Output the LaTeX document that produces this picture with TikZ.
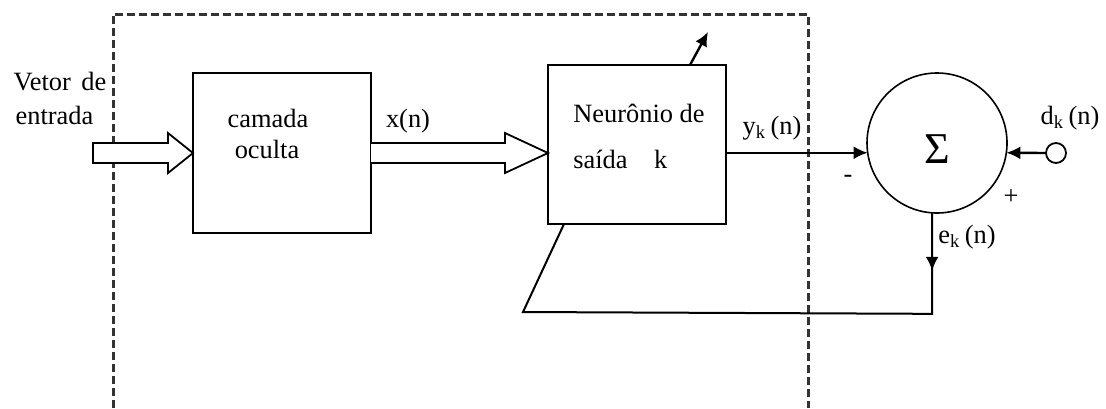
\documentclass[tikz,border=0pt]{standalone}
\usepackage{fontspec}
\setmainfont{Liberation Serif}
\usetikzlibrary{arrows.meta,calc}
\begin{document}
\begin{tikzpicture}[x=0.5pt,y=-0.5pt,
  txt/.style={inner sep=0pt,font=\fontsize{13.2}{15}\selectfont},
  blk/.style={draw,line width=0.9pt,inner sep=0pt,outer sep=0pt},
  sumc/.style={draw,circle,line width=0.8pt,minimum size=70pt,inner sep=0pt,outer sep=0pt},
  hollow/.style={draw,line width=0.9pt,fill=white},
  sig/.style={line width=1.2pt,-{Latex[length=7pt,width=6.5pt]}},
  wire/.style={line width=1pt},
  dashline/.style={draw=black!80,line width=1.5pt,dash pattern=on 4pt off 2pt}]
\useasboundingbox (0,0) rectangle (1106,408);
% dashed frame
\draw[dashline] (113,408) -- (113,14) -- (808,14) -- (808,408);
% blocks
\node[blk,minimum width=89pt,minimum height=80pt] (hid) at (282,153) {};
\node[blk,minimum width=89pt,minimum height=79.5pt] (neu) at (637,144.5) {};
\node[sumc] (sum) at (937,143) {};
\node[draw,circle,line width=0.9pt,minimum size=10pt,inner sep=0pt,outer sep=0pt] (dk) at (1056,153) {};
% hollow arrows
\coordinate (inTip) at (hid.west);
\draw[hollow] ($(inTip)+(-100,-10)$) -- ($(inTip)+(-25,-10)$) -- ($(inTip)+(-25,-20)$) -- (inTip)
  -- ($(inTip)+(-25,20)$) -- ($(inTip)+(-25,10)$) -- ($(inTip)+(-100,10)$) -- cycle;
\coordinate (xTip) at ($(neu.west)+(0,8.5)$);
\coordinate (xStart) at (hid.east |- xTip);
\draw[hollow] ($(xStart)+(0,-10)$) -- ($(xTip)+(-43,-10)$) -- ($(xTip)+(-43,-20)$) -- (xTip)
  -- ($(xTip)+(-43,20)$) -- ($(xTip)+(-43,10)$) -- ($(xStart)+(0,10)$);
% texts
\node[txt] (t1) at (60,82) {Vetor\hspace{2pt} de};
\node[txt] (t2) at (54.5,115) {entrada};
\node[txt] (t3) at (268,118) {camada};
\node[txt] (t4) at (267,149) {oculta};
\node[txt] (t5) at (408,121) {x(n)};
\node[txt,anchor=west] (t6) at (573,113) {Neurônio de};
\node[txt,anchor=west] (t7) at (573,159) {saída\quad k};
\node[txt] (t8) at (772,128) {y\textsubscript{k}\,(n)};
\node[txt] (t9) at (967,237) {e\textsubscript{k}\,(n)};
\node[txt] (t10) at (1070,118) {d\textsubscript{k}\,(n)};
\node[txt] (t11) at (848,179) {-};
\node[txt] (t12) at (1011,197) {+};
\node[inner sep=0pt,font=\fontsize{22}{24}\selectfont] (t13) at (937,149) {Σ};
% signals
\draw[sig] (neu.east |- sum.188) -- (sum.188);
\draw[sig] (dk.west) -- (sum.-8);
\coordinate (wtop) at (708,32);
\draw[sig] ($(neu.north west)+(142,0)$) -- (wtop);
\coordinate (fb1) at ($(sum.266)+(0,101)$);
\coordinate (fb2) at (523,312);
\draw[wire] (sum.266) -- (fb1) -- (fb2) -- ($(neu.south west)+(16,0)$);
\draw[sig] (sum.266) -- ($(sum.266)+(0,58)$);
\end{tikzpicture}
\end{document}
